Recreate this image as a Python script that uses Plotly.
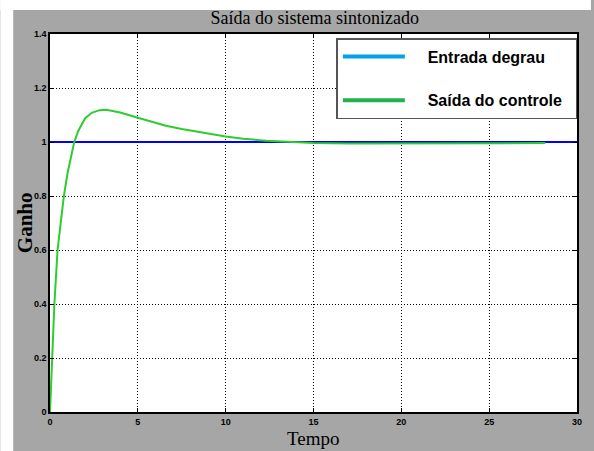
import plotly.graph_objects as go

# --- data ---
t_step = [0, 30]
y_step = [1, 1]

t_out = [0, 0.06, 0.13, 0.25, 0.43, 0.6, 0.79, 1.0, 1.2, 1.38, 1.6, 2.0, 2.4,
         2.83, 3.2, 3.5, 4.0, 5.0, 6.0, 6.6, 7.5, 8.5, 10.0, 11.0, 12.3, 13.8,
         15.0, 17.0, 20.0, 24.0, 28.2]
y_out = [0, 0.1, 0.2, 0.4, 0.6, 0.705, 0.8, 0.885, 0.948, 1.0, 1.04, 1.088, 1.109,
         1.118, 1.119, 1.116, 1.109, 1.09, 1.07, 1.06, 1.048, 1.036, 1.02, 1.012,
         1.005, 1.0, 0.996, 0.994, 0.994, 0.995, 0.996]

legend_names = ["Entrada degrau", "Saída do controle"]
legend_colors = ["#00a2e8", "#22b14c"]

x_ticks = [0, 5, 10, 15, 20, 25, 30]
y_ticks = [0, 0.2, 0.4, 0.6, 0.8, 1, 1.2, 1.4]
y_ticktext = ["0", "0.2", "0.4", "0.6", "0.8", "1", "1.2", "1.4"]

fig = go.Figure()
fig.add_trace(go.Scatter(x=t_step, y=y_step, mode="lines",
                         line=dict(color="#0000ff", width=2), showlegend=False))
fig.add_trace(go.Scatter(x=t_out, y=y_out, mode="lines",
                         line=dict(color="#2ecc2e", width=2), showlegend=False))
# legend entries (colours as in the reference legend)
pad = "\u00a0" * 4
for i, (nm, c) in enumerate(zip(legend_names, legend_colors)):
    fig.add_trace(go.Scatter(x=[None], y=[None], mode="lines", name=pad + nm + "\u00a0\u00a0",
                             legendgroup=f"g{i}",
                             line=dict(color=c, width=4)))

axis_common = dict(
    showline=True, linecolor="black", linewidth=1.5, mirror="ticks",
    ticks="inside", ticklen=4, tickcolor="black", tickwidth=1,
    showgrid=True, gridcolor="black", gridwidth=1, griddash="1px,2px",
    zeroline=False,
    tickfont=dict(family="Liberation Sans Narrow, Arial", size=9, color="black", weight="bold"),
)

fig.update_xaxes(range=[0, 30], tickvals=x_ticks, **axis_common)
fig.update_yaxes(range=[0, 1.4], tickvals=y_ticks, ticktext=y_ticktext, **axis_common)

fig.update_layout(
    width=594, height=451,
    margin=dict(l=50, r=14, t=34, b=39),
    paper_bgcolor="#a6a6a6",
    plot_bgcolor="white",
    title=dict(text="Saída do sistema sintonizado", x=0.53, xanchor="center",
               y=1 - 18 / 451, yanchor="middle", yref="container",
               font=dict(family="Liberation Serif, Times New Roman", size=18, color="black")),
    legend=dict(x=0.5434, y=(412 - 38) / 378, xanchor="left", yanchor="top",
                bgcolor="white", bordercolor="#555555", borderwidth=1.5,
                font=dict(family="Liberation Sans, Arial", size=16, color="black", weight="bold"),
                tracegroupgap=20, itemwidth=62, traceorder="grouped"),
    shapes=[
        dict(type="rect", xref="paper", yref="paper",
             x0=-50 / 530, x1=(594 - 50) / 530, y0=(412 - 10) / 378, y1=412 / 378,
             fillcolor="white", line=dict(width=0), layer="below"),
        dict(type="rect", xref="paper", yref="paper",
             x0=-50 / 530, x1=(13 - 50) / 530, y0=-39 / 378, y1=412 / 378,
             fillcolor="white", line=dict(width=0), layer="below"),
    ],
    annotations=[
        dict(text="Ganho", xref="paper", yref="paper", x=(25 - 50) / 530, y=0.5,
             textangle=-90, showarrow=False, xanchor="center", yanchor="middle",
             font=dict(family="Liberation Serif, Times New Roman", size=21, color="black", weight="bold")),
        dict(text="Tempo", xref="paper", yref="paper", x=0.5, y=(412 - 438) / 378,
             showarrow=False, xanchor="center", yanchor="middle",
             font=dict(family="Liberation Serif, Times New Roman", size=19, color="black")),
    ],
)

fig.write_html("out.html")
